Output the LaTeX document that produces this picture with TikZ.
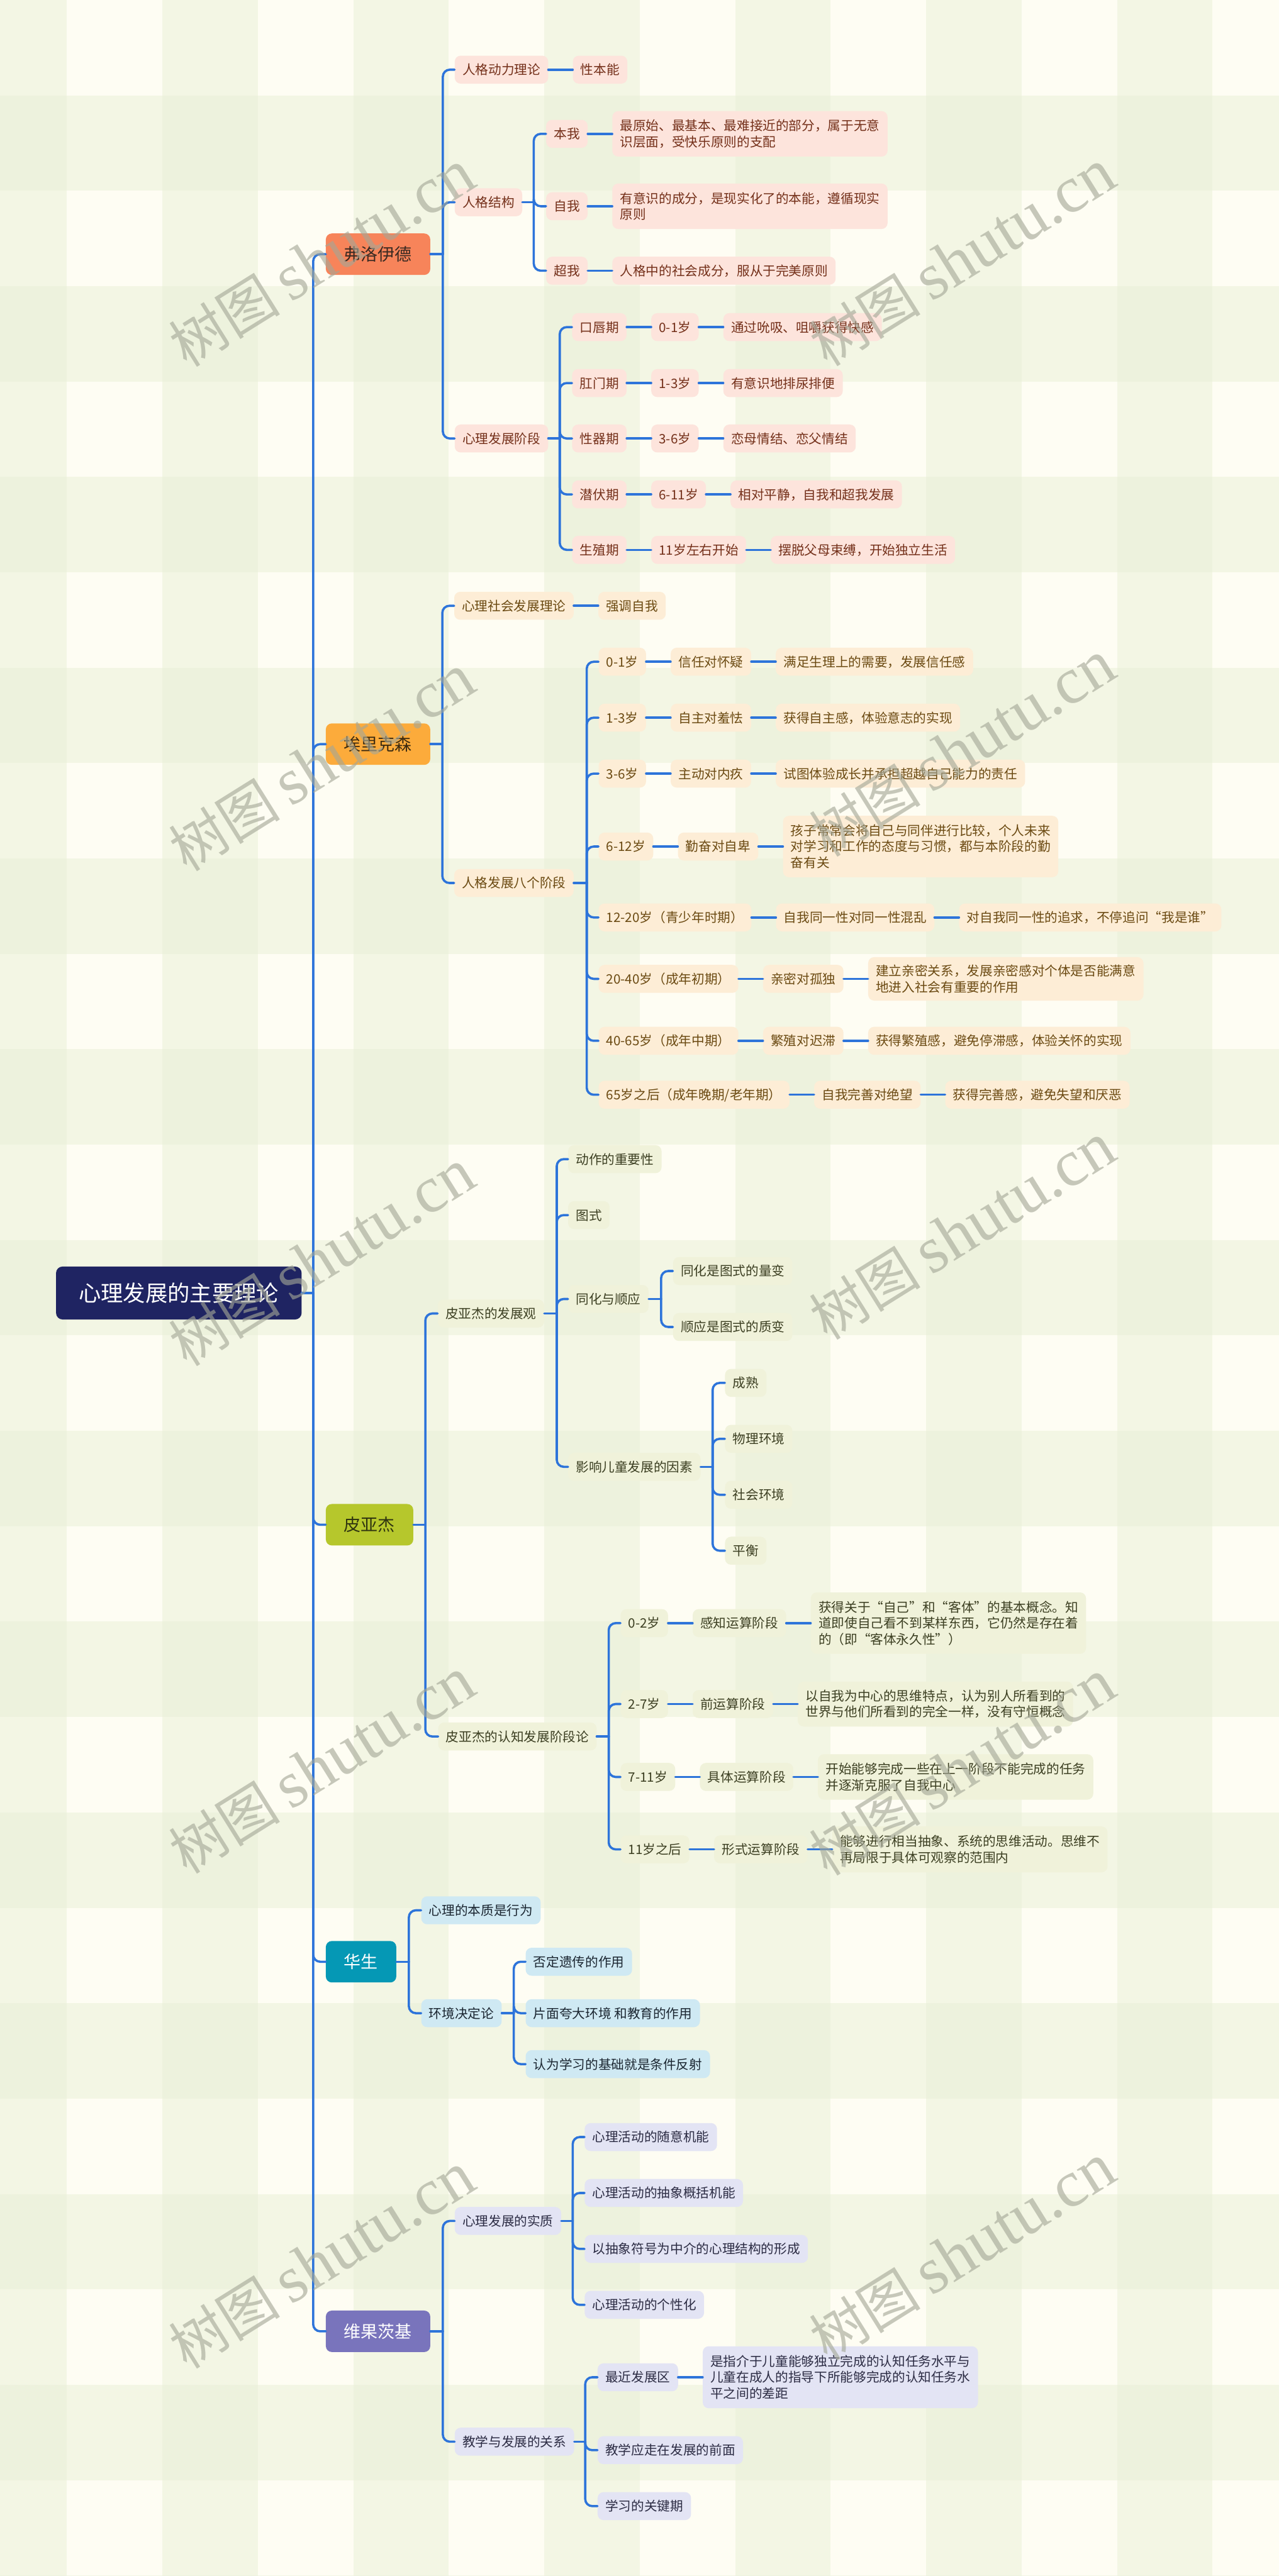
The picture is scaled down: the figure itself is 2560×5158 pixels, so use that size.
\documentclass[tikz,border=0pt]{standalone}
\usepackage{fontspec}
\setmainfont{Noto Sans CJK SC}
\newfontfamily\wmlat{Liberation Serif}
\usetikzlibrary{positioning}
\definecolor{bgcream}{HTML}{FEFDF3}
\definecolor{bggreen}{HTML}{E9F0D7}
\definecolor{lineblue}{HTML}{2D74DA}
\definecolor{rootfill}{HTML}{1F2462}
\definecolor{cF}{HTML}{F7845A}
\definecolor{cE}{HTML}{FCAB3B}
\definecolor{cP}{HTML}{B6C72C}
\definecolor{cW}{HTML}{0598B5}
\definecolor{cV}{HTML}{7974BC}
\definecolor{cFt}{HTML}{3A2A22}
\definecolor{cEt}{HTML}{3B2A10}
\definecolor{cPt}{HTML}{2F3410}
\definecolor{fsub}{HTML}{FDE4DC}
\definecolor{ftxt}{HTML}{74301A}
\definecolor{esub}{HTML}{FDEDD6}
\definecolor{etxt}{HTML}{6B4A12}
\definecolor{psub}{HTML}{F0F2DA}
\definecolor{ptxt}{HTML}{3C3F22}
\definecolor{wsub}{HTML}{CFE9F3}
\definecolor{wtxt}{HTML}{1B2631}
\definecolor{vsub}{HTML}{E3E4F4}
\definecolor{vtxt}{HTML}{2C2C44}
\definecolor{wmgray}{HTML}{A4A797}
\newcommand\fsA{\fontsize{26pt}{32pt}\selectfont}
\newcommand\fsB{\fontsize{34pt}{40pt}\selectfont}
\newcommand\fsC{\fontsize{44.5pt}{52pt}\selectfont}
\newcommand\wmtext{{\fontsize{112pt}{112pt}\selectfont 树图}\hspace{22pt}{\wmlat\fontsize{132pt}{132pt}\selectfont shutu.cn}}
\newcommand\fork[3]{%
  \draw[conn] (#1.east) -- ++(#2,0) coordinate (#1-b);
  \foreach \c in {#3}{\draw[conn] (#1-b) |- (\c.west);}%
}
\newcommand\chain[2]{\draw[conn] (#1.east) -- (#2.west);}
\tikzset{
  bx/.style={rounded corners=12pt, inner xsep=15.5pt, inner ysep=0pt, minimum height=56pt,
    anchor=west, font=\fsA, text height=23pt, text depth=3pt},
  ml/.style={align=left, text height=, text depth=, minimum height=#1},
  fb/.style={bx, fill=fsub, text=ftxt},
  eb/.style={bx, fill=esub, text=etxt},
  pb/.style={bx, fill=psub, text=ptxt},
  wb/.style={bx, fill=wsub, text=wtxt},
  vb/.style={bx, fill=vsub, text=vtxt},
  topbox/.style={rounded corners=12pt, inner xsep=36.5pt, inner ysep=0pt, minimum height=83pt,
    anchor=west, font=\fsB, text height=30pt, text depth=4pt},
  rootbox/.style={rounded corners=13pt, inner xsep=45.5pt, inner ysep=0pt, minimum height=106pt,
    anchor=west, font=\fsC, text height=39pt, text depth=5.5pt, fill=rootfill, text=white},
  conn/.style={draw=lineblue, line width=4.5pt, rounded corners=14pt, line cap=round},
  wm/.style={text=wmgray, text opacity=0.62, rotate=32, inner sep=0pt},
}
\begin{document}
\begin{tikzpicture}[x=1pt,y=-1pt]
\useasboundingbox (0,0) rectangle (2560,5158);
% background plaid
\fill[bgcream] (0,0) rectangle (2560,5158);
\foreach \i in {0,...,6}{\fill[bggreen, opacity=0.5] ({-57+382.2*\i},0) rectangle ({134+382.2*\i},5158);}
\foreach \j in {0,...,13}{\fill[bggreen, opacity=0.5] (0,{191+382*\j}) rectangle (2560,{382+382*\j});}

% root and main branches
\node[rootbox] (r) at (112,2589) {心理发展的主要理论};
\node[topbox, fill=cF, text=cFt] (F) at (652,509) {弗洛伊德};
\node[topbox, fill=cE, text=cEt] (E) at (652,1490) {埃里克森};
\node[topbox, fill=cP, text=cPt] (P) at (652,3053) {皮亚杰};
\node[topbox, fill=cW, text=white] (W) at (652,3928) {华生};
\node[topbox, fill=cV, text=white] (V) at (652,4668) {维果茨基};

% ---------- Freud
\node[fb] (f1) at (910,139.5) {人格动力理论};
\node[fb, right=49pt of f1] (f1a) {性本能};
\node[fb] (f2) at (910,405) {人格结构};
\node[fb] (f21) at (1093,268) {本我};
\node[fb, ml=91pt, right=49pt of f21] (f21a) {最原始、最基本、最难接近的部分，属于无意\\识层面，受快乐原则的支配};
\node[fb] (f22) at (1093,413) {自我};
\node[fb, ml=91pt, right=49pt of f22] (f22a) {有意识的成分，是现实化了的本能，遵循现实\\原则};
\node[fb] (f23) at (1093,542) {超我};
\node[fb, right=49pt of f23] (f23a) {人格中的社会成分，服从于完美原则};
\node[fb] (f3) at (910,878) {心理发展阶段};
\node[fb] (f31) at (1145,655) {口唇期};
\node[fb, right=49pt of f31] (f31a) {0-1岁};
\node[fb, right=49pt of f31a] (f31b) {通过吮吸、咀嚼获得快感};
\node[fb] (f32) at (1145,767) {肛门期};
\node[fb, right=49pt of f32] (f32a) {1-3岁};
\node[fb, right=49pt of f32a] (f32b) {有意识地排尿排便};
\node[fb] (f33) at (1145,878) {性器期};
\node[fb, right=49pt of f33] (f33a) {3-6岁};
\node[fb, right=49pt of f33a] (f33b) {恋母情结、恋父情结};
\node[fb] (f34) at (1145,990) {潜伏期};
\node[fb, right=49pt of f34] (f34a) {6-11岁};
\node[fb, right=49pt of f34a] (f34b) {相对平静，自我和超我发展};
\node[fb] (f35) at (1145,1101) {生殖期};
\node[fb, right=49pt of f35] (f35a) {11岁左右开始};
\node[fb, right=49pt of f35a] (f35b) {摆脱父母束缚，开始独立生活};

% ---------- Erikson
\node[eb] (e1) at (909,1213) {心理社会发展理论};
\node[eb, right=49pt of e1] (e1a) {强调自我};
\node[eb] (e2) at (909,1768) {人格发展八个阶段};
\node[eb] (e21) at (1198,1325) {0-1岁};
\node[eb, right=49pt of e21] (e21a) {信任对怀疑};
\node[eb, right=49pt of e21a] (e21b) {满足生理上的需要，发展信任感};
\node[eb] (e22) at (1198,1437) {1-3岁};
\node[eb, right=49pt of e22] (e22a) {自主对羞怯};
\node[eb, right=49pt of e22a] (e22b) {获得自主感，体验意志的实现};
\node[eb] (e23) at (1198,1549) {3-6岁};
\node[eb, right=49pt of e23] (e23a) {主动对内疚};
\node[eb, right=49pt of e23a] (e23b) {试图体验成长并承担超越自己能力的责任};
\node[eb] (e24) at (1198,1695) {6-12岁};
\node[eb, right=49pt of e24] (e24a) {勤奋对自卑};
\node[eb, ml=123pt, right=49pt of e24a] (e24b) {孩子常常会将自己与同伴进行比较，个人未来\\对学习和工作的态度与习惯，都与本阶段的勤\\奋有关};
\node[eb] (e25) at (1198,1837) {12-20岁（青少年时期）};
\node[eb, right=49pt of e25] (e25a) {自我同一性对同一性混乱};
\node[eb, right=49pt of e25a] (e25b) {对自我同一性的追求，不停追问“我是谁”};
\node[eb] (e26) at (1198,1960) {20-40岁（成年初期）};
\node[eb, right=49pt of e26] (e26a) {亲密对孤独};
\node[eb, ml=87pt, right=49pt of e26a] (e26b) {建立亲密关系，发展亲密感对个体是否能满意\\地进入社会有重要的作用};
\node[eb] (e27) at (1198,2084) {40-65岁（成年中期）};
\node[eb, right=49pt of e27] (e27a) {繁殖对迟滞};
\node[eb, right=49pt of e27a] (e27b) {获得繁殖感，避免停滞感，体验关怀的实现};
\node[eb] (e28) at (1198,2192) {65岁之后（成年晚期/老年期）};
\node[eb, right=49pt of e28] (e28a) {自我完善对绝望};
\node[eb, right=49pt of e28a] (e28b) {获得完善感，避免失望和厌恶};

% ---------- Piaget
\node[pb] (p1) at (876,2630) {皮亚杰的发展观};
\node[pb] (p11) at (1137,2321) {动作的重要性};
\node[pb] (p12) at (1137,2433) {图式};
\node[pb] (p13) at (1137,2601) {同化与顺应};
\node[pb] (p131) at (1347,2545) {同化是图式的量变};
\node[pb] (p132) at (1347,2657) {顺应是图式的质变};
\node[pb] (p14) at (1137,2937) {影响儿童发展的因素};
\node[pb] (p141) at (1451,2769) {成熟};
\node[pb] (p142) at (1451,2881) {物理环境};
\node[pb] (p143) at (1451,2993) {社会环境};
\node[pb] (p144) at (1451,3105) {平衡};
\node[pb] (p2) at (877,3477) {皮亚杰的认知发展阶段论};
\node[pb] (p21) at (1242,3250) {0-2岁};
\node[pb, right=49pt of p21] (p21a) {感知运算阶段};
\node[pb, ml=123pt, right=49pt of p21a] (p21b) {获得关于“自己”和“客体”的基本概念。知\\道即使自己看不到某样东西，它仍然是存在着\\的（即“客体永久性”）};
\node[pb] (p22) at (1242,3412) {2-7岁};
\node[pb, right=49pt of p22] (p22a) {前运算阶段};
\node[pb, ml=90pt, right=49pt of p22a] (p22b) {以自我为中心的思维特点，认为别人所看到的\\世界与他们所看到的完全一样，没有守恒概念};
\node[pb] (p23) at (1242,3558) {7-11岁};
\node[pb, right=49pt of p23] (p23a) {具体运算阶段};
\node[pb, ml=91pt, right=49pt of p23a] (p23b) {开始能够完成一些在上一阶段不能完成的任务\\并逐渐克服了自我中心};
\node[pb] (p24) at (1242,3703) {11岁之后};
\node[pb, right=49pt of p24] (p24a) {形式运算阶段};
\node[pb, ml=92pt, right=49pt of p24a] (p24b) {能够进行相当抽象、系统的思维活动。思维不\\再局限于具体可观察的范围内};

% ---------- Watson
\node[wb] (w1) at (843,3825) {心理的本质是行为};
\node[wb] (w2) at (843,4031) {环境决定论};
\node[wb] (w21) at (1052,3928) {否定遗传的作用};
\node[wb] (w22) at (1052,4031) {片面夸大环境 和教育的作用};
\node[wb] (w23) at (1052,4133) {认为学习的基础就是条件反射};

% ---------- Vygotsky
\node[vb] (v1) at (910,4447) {心理发展的实质};
\node[vb] (v11) at (1170,4279) {心理活动的随意机能};
\node[vb] (v12) at (1170,4391) {心理活动的抽象概括机能};
\node[vb] (v13) at (1170,4503) {以抽象符号为中介的心理结构的形成};
\node[vb] (v14) at (1170,4615) {心理活动的个性化};
\node[vb] (v2) at (910,4889) {教学与发展的关系};
\node[vb] (v21) at (1196,4760) {最近发展区};
\node[vb, ml=124pt, right=49pt of v21] (v21a) {是指介于儿童能够独立完成的认知任务水平与\\儿童在成人的指导下所能够完成的认知任务水\\平之间的差距};
\node[vb] (v22) at (1196,4906) {教学应走在发展的前面};
\node[vb] (v23) at (1196,5018) {学习的关键期};

% ---------- connectors
\fork{r}{23}{F,E,P,W,V}
\fork{F}{25}{f1,f2,f3}
\fork{f2}{23}{f21,f22,f23}
\fork{f3}{23}{f31,f32,f33,f34,f35}
\chain{f1}{f1a}
\chain{f21}{f21a}\chain{f22}{f22a}\chain{f23}{f23a}
\chain{f31}{f31a}\chain{f31a}{f31b}
\chain{f32}{f32a}\chain{f32a}{f32b}
\chain{f33}{f33a}\chain{f33a}{f33b}
\chain{f34}{f34a}\chain{f34a}{f34b}
\chain{f35}{f35a}\chain{f35a}{f35b}
\fork{E}{24}{e1,e2}
\fork{e2}{26}{e21,e22,e23,e24,e25,e26,e27,e28}
\chain{e1}{e1a}
\chain{e21}{e21a}\chain{e21a}{e21b}
\chain{e22}{e22a}\chain{e22a}{e22b}
\chain{e23}{e23a}\chain{e23a}{e23b}
\chain{e24}{e24a}\chain{e24a}{e24b}
\chain{e25}{e25a}\chain{e25a}{e25b}
\chain{e26}{e26a}\chain{e26a}{e26b}
\chain{e27}{e27a}\chain{e27a}{e27b}
\chain{e28}{e28a}\chain{e28a}{e28b}
\fork{P}{24}{p1,p2}
\fork{p1}{25}{p11,p12,p13,p14}
\fork{p13}{25}{p131,p132}
\fork{p14}{24}{p141,p142,p143,p144}
\fork{p2}{24}{p21,p22,p23,p24}
\chain{p21}{p21a}\chain{p21a}{p21b}
\chain{p22}{p22a}\chain{p22a}{p22b}
\chain{p23}{p23a}\chain{p23a}{p23b}
\chain{p24}{p24a}\chain{p24a}{p24b}
\fork{W}{25}{w1,w2}
\fork{w2}{24}{w21,w22,w23}
\fork{V}{25}{v1,v2}
\fork{v1}{23}{v11,v12,v13,v14}
\fork{v2}{22}{v21,v22,v23}
\chain{v21}{v21a}

% ---------- watermarks
\foreach \yl/\yr in {518/517,1528/1500,2519/2466,3536/3540,4527/4510}{
  \node[wm] at (644,\yl) {\wmtext};
  \node[wm] at (1926,\yr) {\wmtext};
}
\end{tikzpicture}
\end{document}
